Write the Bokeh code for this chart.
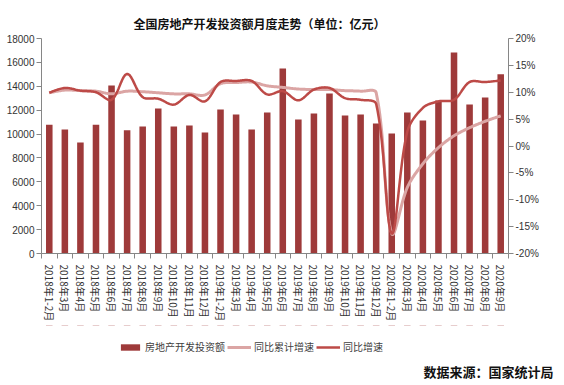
import numpy as np
from bokeh.plotting import figure
from bokeh.layouts import column
from bokeh.models import (Range1d, LinearAxis, FixedTicker, PrintfTickFormatter,
                          Legend, LegendItem, Title, ColumnDataSource)
from bokeh.embed import file_html
from bokeh.resources import INLINE

# ---------------- data ----------------
categories = ["2018年1-2月", "2018年3月", "2018年4月", "2018年5月", "2018年6月",
              "2018年7月", "2018年8月", "2018年9月", "2018年10月", "2018年11月",
              "2018年12月", "2019年1-2月", "2019年3月", "2019年4月", "2019年5月",
              "2019年6月", "2019年7月", "2019年8月", "2019年9月", "2019年10月",
              "2019年11月", "2019年12月", "2020年1-2月", "2020年3月", "2020年4月",
              "2020年5月", "2020年6月", "2020年7月", "2020年8月", "2020年9月"]
investment = [10775, 10381, 9293, 10775, 14065, 10323, 10632, 12140, 10632, 10716,
              10130, 12056, 11637, 10381, 11805, 15488, 11218, 11721, 13395, 11553,
              11637, 10884, 10047, 11805, 11135, 12809, 16828, 12474, 13060, 15012]
cumulative_yoy = [9.9, 10.4, 10.3, 10.2, 9.7, 10.2, 10.1, 9.9, 9.7, 9.7,
                  9.5, 11.6, 11.8, 11.9, 11.2, 10.9, 10.6, 10.5, 10.5, 10.3,
                  10.2, 9.9, -16.3, -7.7, -3.3, -0.3, 1.9, 3.4, 4.6, 5.6]
monthly_yoy = [9.9, 10.8, 10.3, 10.0, 8.6, 13.4, 9.1, 8.8, 7.7, 9.5,
               8.3, 11.9, 12.1, 12.1, 9.6, 10.2, 8.5, 10.5, 10.8, 8.9,
               8.6, 7.8, -16.3, 2.7, 7.1, 8.3, 8.6, 11.9, 11.9, 12.2]
left_ticks = list(range(0, 18001, 2000))
right_ticks = list(range(-20, 21, 5))

title_text = "全国房地产开发投资额月度走势（单位：亿元）"
source_text = "数据来源：国家统计局"
series_names = ["房地产开发投资额", "同比累计增速", "同比增速"]

BAR = "#9E3A3A"
CUM = "#DBA5A4"
MON = "#BD4A47"
AXIS = "#868686"
TXT = "#333333"
CJK = "Noto Sans CJK SC"

FRAME_W, FRAME_H = 467, 215
n = len(categories)
xpos = [i + 0.5 for i in range(n)]
PCT_LO, PCT_HI = -20, 20


def smooth(xs, ys, sx, sy, n_seg=20, t=1 / 3.0):
    """Excel-like smoothed line: Bezier through points, tangents scaled by
    neighbouring segment lengths in screen space."""
    P = np.column_stack([np.asarray(xs, float) * sx, np.asarray(ys, float) * sy])
    N = len(P)
    after = P.copy()
    before = P.copy()
    for i in range(1, N - 1):
        d01 = np.linalg.norm(P[i] - P[i - 1])
        d12 = np.linalg.norm(P[i + 1] - P[i])
        tot = d01 + d12
        v = P[i + 1] - P[i - 1]
        before[i] = P[i] - t * d01 / tot * v
        after[i] = P[i] + t * d12 / tot * v
    u = np.linspace(0, 1, n_seg, endpoint=False)[:, None]
    out = []
    for i in range(N - 1):
        b0, b1, b2, b3 = P[i], after[i], before[i + 1], P[i + 1]
        seg = ((1 - u) ** 3) * b0 + 3 * ((1 - u) ** 2) * u * b1 + 3 * (1 - u) * u**2 * b2 + u**3 * b3
        out.append(seg)
    out.append(P[-1:])
    out = np.vstack(out)
    return list(out[:, 0] / sx), list(out[:, 1] / sy)


p = figure(width=564, height=325, x_range=Range1d(0, n), y_range=Range1d(0, 18000),
           output_backend="svg", toolbar_location=None,
           x_axis_type=None, y_axis_type=None,
           min_border_left=41, min_border_right=56, min_border_top=38,
           min_border_bottom=72)
p.outline_line_color = None
p.extra_y_ranges = {"pct": Range1d(PCT_LO, PCT_HI)}

# title
p.title.text = title_text
p.title.align = "left"
p.title.offset = 92
p.title.vertical_align = "top"
p.title.standoff = 10
p.title.text_font = CJK
p.title.text_font_size = "12px"
p.title.text_font_style = "bold"
p.title.text_color = "#111111"


def style_axis(ax):
    ax.axis_line_color = AXIS
    ax.major_tick_line_color = AXIS
    ax.minor_tick_line_color = None
    ax.major_tick_out = 5
    ax.major_tick_in = 0
    ax.major_label_text_color = TXT
    ax.major_label_text_font = "Liberation Sans"
    ax.major_label_text_font_size = "10px"
    ax.major_label_standoff = 2


yl = LinearAxis(ticker=FixedTicker(ticks=left_ticks))
style_axis(yl)
p.add_layout(yl, "left")

yr = LinearAxis(y_range_name="pct", ticker=FixedTicker(ticks=right_ticks),
                formatter=PrintfTickFormatter(format="%d%%"))
style_axis(yr)
p.add_layout(yr, "right")

xa = LinearAxis(ticker=FixedTicker(ticks=xpos, minor_ticks=list(range(n + 1))),
                major_label_overrides={x: c for x, c in zip(xpos, categories)})
style_axis(xa)
xa.major_tick_line_color = None
xa.minor_tick_line_color = AXIS
xa.minor_tick_out = 5
xa.minor_tick_in = 0
xa.major_label_orientation = "vertical"
xa.major_label_text_font = CJK
xa.major_label_standoff = 6
p.add_layout(xa, "below")

# glyphs
src = ColumnDataSource(dict(x=xpos, inv=investment, cat=categories))
p.vbar(x="x", top="inv", width=0.42, bottom=0, source=src,
       fill_color=BAR, line_color=None)
sx = FRAME_W / n
sy = FRAME_H / (PCT_HI - PCT_LO)
cx, cy = smooth(xpos, cumulative_yoy, sx, sy)
p.line(cx, cy, y_range_name="pct", line_color=CUM, line_width=3)
mx, my = smooth(xpos, monthly_yoy, sx, sy)
p.line(mx, my, y_range_name="pct", line_color=MON, line_width=2.5)

# ---------- legend + source strip (frame aligned with main plot) ----------
p2 = figure(width=564, height=60, x_range=Range1d(0, n), y_range=Range1d(0, 1),
            output_backend="svg", toolbar_location=None,
            x_axis_type=None, y_axis_type=None,
            min_border_left=41, min_border_right=56,
            min_border_top=0, min_border_bottom=0)
p2.outline_line_color = None
# legend swatches come from the same series, drawn on a range that keeps them out of view
p2.extra_y_ranges = {"off": Range1d(-1000000, -999999)}
r_bar = p2.vbar(x="x", top="inv", width=0.42, bottom=0, source=src,
                fill_color=BAR, line_color=None, y_range_name="off")
r_cum = p2.line(xpos, cumulative_yoy, line_color=CUM, line_width=3, y_range_name="off")
r_mon = p2.line(xpos, monthly_yoy, line_color=MON, line_width=2.5, y_range_name="off")
legend = Legend(items=[LegendItem(label=series_names[0], renderers=[r_bar]),
                       LegendItem(label=series_names[1], renderers=[r_cum]),
                       LegendItem(label=series_names[2], renderers=[r_mon])],
                orientation="horizontal", location=(77, 0))
legend.label_text_font = CJK
legend.label_text_font_size = "10px"
legend.label_text_color = "#404040"
legend.glyph_width = 24
legend.glyph_height = 8
legend.spacing = 2
legend.label_standoff = 3
legend.padding = 2
legend.margin = 0
legend.border_line_color = None
legend.background_fill_alpha = 0
p2.add_layout(legend, "center")

foot = Title(text=source_text, align="right", text_font=CJK, text_font_size="13px",
             text_font_style="bold", text_color="#111111", offset=-45, standoff=10)
p2.add_layout(foot, "below")

open("out.html", "w").write(file_html(column(p, p2, spacing=0), INLINE))
